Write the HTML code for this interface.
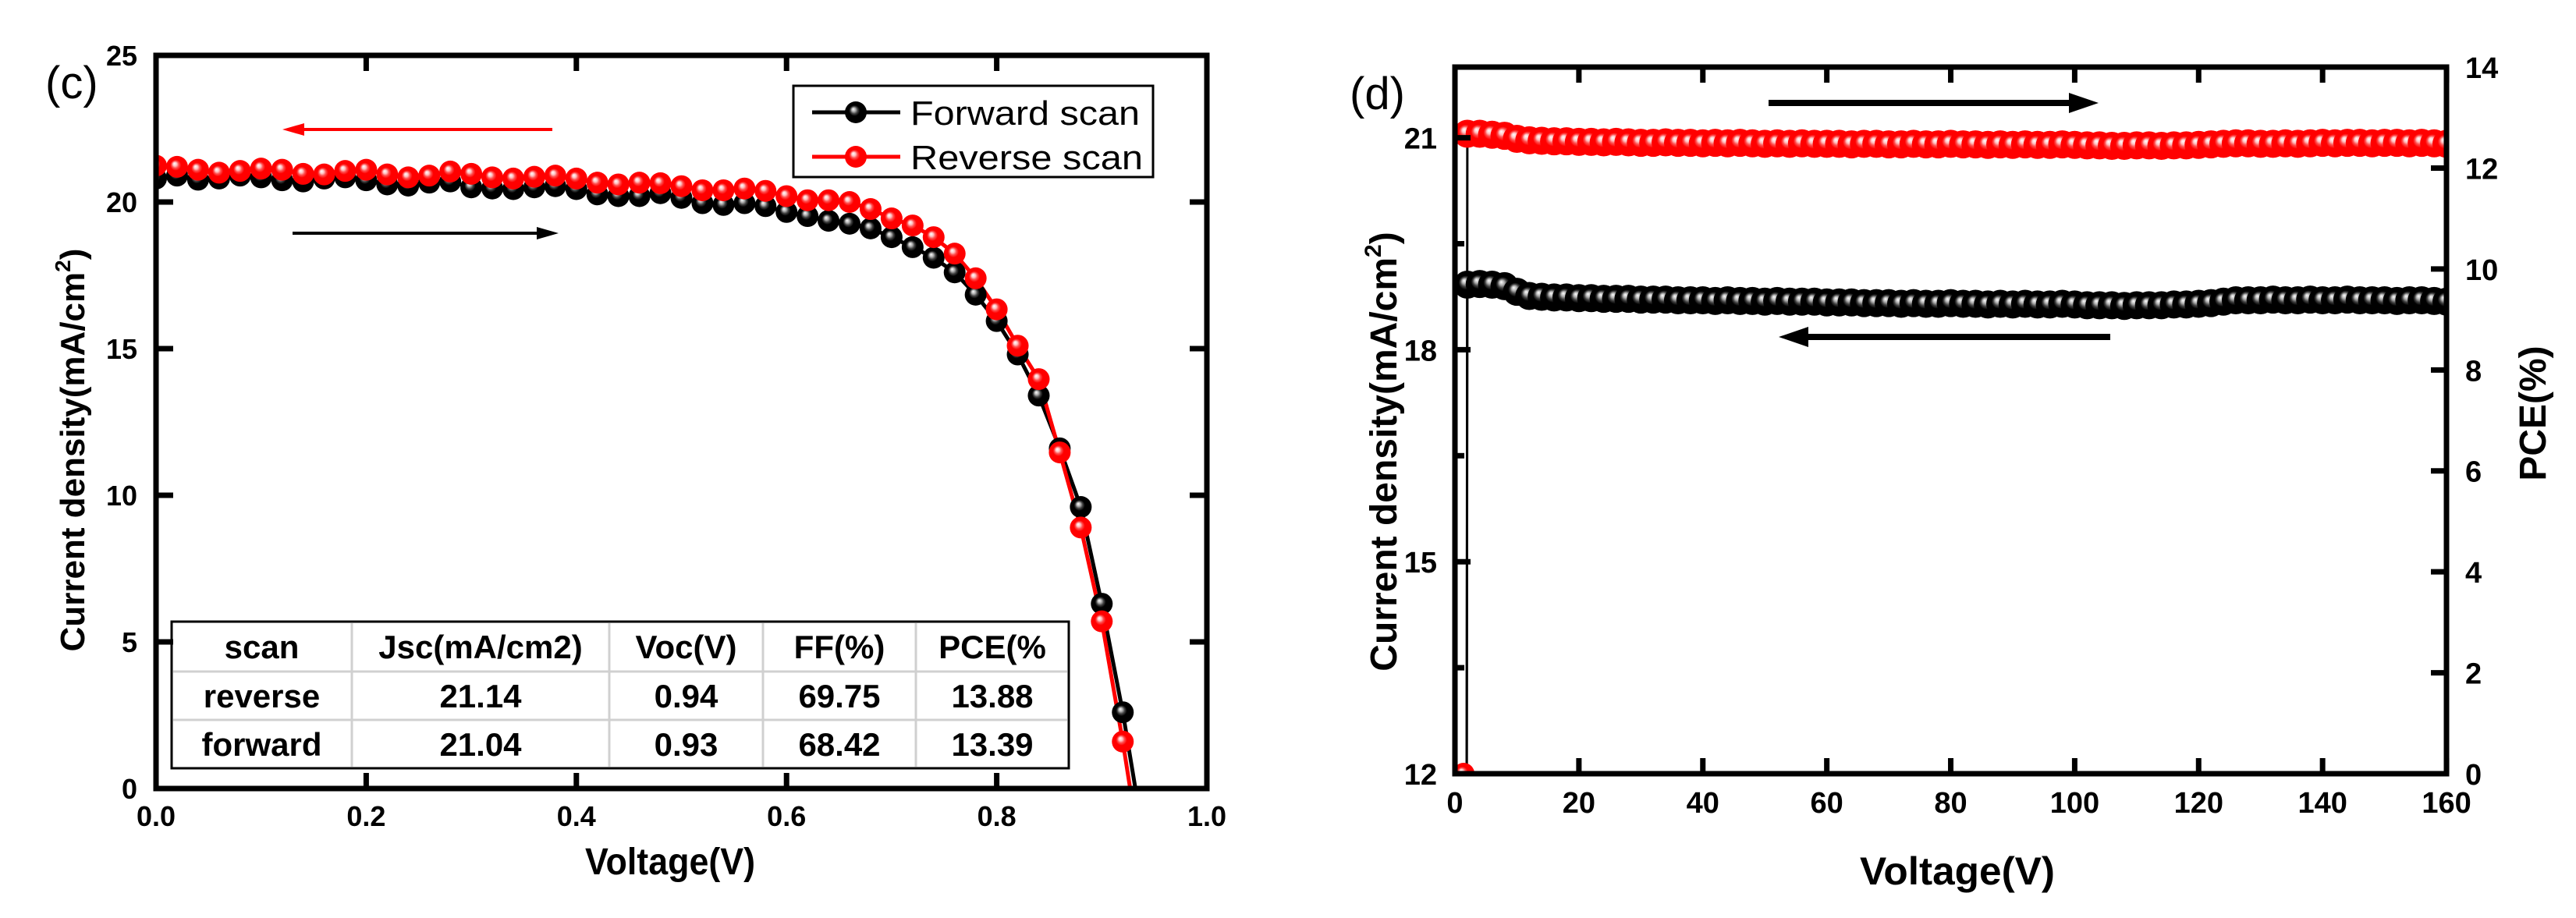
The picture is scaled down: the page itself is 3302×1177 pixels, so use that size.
<!DOCTYPE html>
<html><head><meta charset="utf-8"><style>
html,body{margin:0;padding:0;background:#fff;}
svg{display:block;font-family:"Liberation Sans",Arial,sans-serif;}
</style></head><body>
<svg id="fig" width="3302" height="1177" viewBox="0 0 3302 1177" xmlns="http://www.w3.org/2000/svg">
<defs>
<radialGradient id="gRed" cx="0.5" cy="0.5" r="0.5" fx="0.38" fy="0.35">
<stop offset="0" stop-color="#fff"/><stop offset="0.18" stop-color="#ffc0c0"/><stop offset="0.32" stop-color="#ff5050"/><stop offset="0.5" stop-color="#ff0000"/><stop offset="1" stop-color="#ff0000"/>
</radialGradient>
<radialGradient id="gBlk" cx="0.5" cy="0.5" r="0.5" fx="0.38" fy="0.35">
<stop offset="0" stop-color="#fff"/><stop offset="0.18" stop-color="#b0b0b0"/><stop offset="0.34" stop-color="#404040"/><stop offset="0.5" stop-color="#000"/><stop offset="1" stop-color="#000"/>
</radialGradient>
</defs>
<g id="left"></g>
<g id="right"></g>
</svg>
<script>
// ---- Panel (c) data ----
const jvVoltage = [0,0.02,0.04,0.06,0.08,0.10,0.12,0.14,0.16,0.18,0.20,0.22,0.24,0.26,0.28,0.30,0.32,0.34,0.36,0.38,0.40,0.42,0.44,0.46,0.48,0.50,0.52,0.54,0.56,0.58,0.60,0.62,0.64,0.66,0.68,0.70,0.72,0.74,0.76,0.78,0.80,0.82,0.84,0.86,0.88,0.90,0.92];
const reverseJ = [21.24,21.2,21.1,21.0,21.06,21.14,21.1,20.96,20.94,21.06,21.1,20.94,20.84,20.9,21.04,20.96,20.84,20.8,20.86,20.9,20.8,20.66,20.6,20.66,20.64,20.54,20.4,20.4,20.46,20.38,20.2,20.06,20.06,20.0,19.76,19.44,19.2,18.8,18.24,17.4,16.34,15.1,13.96,11.46,8.9,5.7,1.6];
const forwardJ = [20.8,20.9,20.76,20.8,20.9,20.84,20.74,20.7,20.8,20.84,20.74,20.6,20.56,20.66,20.7,20.5,20.46,20.44,20.5,20.54,20.44,20.26,20.2,20.2,20.3,20.14,19.96,19.9,19.96,19.86,19.66,19.52,19.36,19.26,19.1,18.8,18.46,18.1,17.6,16.84,15.94,14.8,13.4,11.6,9.6,6.3,2.6];
const reverseVoc = 0.927, forwardVoc = 0.932;
const jvXTicks = [0,0.2,0.4,0.6,0.8,1.0];
const jvXTickLabels = ["0.0","0.2","0.4","0.6","0.8","1.0"];
const jvYTicks = [0,5,10,15,20,25];
const tableHeader = ["scan","Jsc(mA/cm2)","Voc(V)","FF(%)","PCE(%"];
const tableReverse = ["reverse","21.14","0.94","69.75","13.88"];
const tableForward = ["forward","21.04","0.93","68.42","13.39"];

// ---- Panel (d) data ----
const stabVoltage = [];
for (let v = 2; v <= 160; v += 2) stabVoltage.push(v);
const pceValues = [12.68,12.68,12.66,12.64,12.58,
12.55,12.54,12.53,12.53,12.52,12.52,12.51,12.52,12.51,12.50,
12.50,12.51,12.50,12.50,12.49,12.50,12.49,12.50,12.49,12.48,12.49,12.48,12.49,12.48,12.48,
12.48,12.47,12.48,12.48,12.47,12.47,12.48,12.47,12.47,12.48,12.47,12.47,12.46,12.47,12.46,12.47,12.46,12.46,12.47,12.46,
12.45,12.45,12.44,12.44,12.45,12.45,12.44,12.45,12.45,12.46,
12.47,12.48,12.49,12.49,12.48,12.48,12.49,12.48,12.49,12.50,12.49,12.50,12.50,12.49,12.50,12.50,12.49,12.50,12.49,12.48];
const densityValues = [18.92,18.93,18.92,18.90,18.82,
18.76,18.75,18.74,18.74,18.73,18.73,18.72,18.72,18.72,18.71,
18.71,18.71,18.70,18.70,18.70,18.69,18.70,18.69,18.69,18.68,18.69,18.68,18.68,18.68,18.67,
18.67,18.67,18.66,18.66,18.66,18.65,18.66,18.65,18.65,18.66,18.65,18.65,18.64,18.65,18.64,18.65,18.64,18.64,18.65,18.64,
18.63,18.63,18.63,18.62,18.63,18.63,18.63,18.64,18.64,18.65,
18.66,18.68,18.70,18.70,18.70,18.71,18.70,18.70,18.71,18.70,18.70,18.71,18.70,18.70,18.70,18.69,18.70,18.70,18.69,18.68];
const stabXTicks = [0,20,40,60,80,100,120,140,160];
const stabLeftTicks = [12,15,18,21];
const stabLeftMinor = [13.5,16.5,19.5];
const stabRightTicks = [0,2,4,6,8,10,12,14];

const NS = "http://www.w3.org/2000/svg";
function mk(parent, tag, attrs, text) {
  const e = document.createElementNS(NS, tag);
  for (const k in attrs) e.setAttribute(k, attrs[k]);
  if (text !== undefined) e.textContent = text;
  parent.appendChild(e);
  return e;
}

// ================= Panel (c) =================
const L = document.getElementById('left');
const lx = v => 200 + v * 1347;
const ly = j => 1011 - j * 37.6;

function polyPts(xs, ys, endX, fx, fy) {
  const pts = xs.map((v, i) => fx(v) + "," + fy(ys[i]));
  pts.push(fx(endX) + "," + fy(0));
  return pts.join(" ");
}
const fLine = mk(L, 'polyline', {points: polyPts(jvVoltage, forwardJ, forwardVoc, lx, ly), fill: 'none', stroke: '#000', 'stroke-width': 5});


const rLine = mk(L, 'polyline', {points: polyPts(jvVoltage, reverseJ, reverseVoc, lx, ly), fill: 'none', stroke: '#f00', 'stroke-width': 5});



const clipL = mk(L, 'clipPath', {id: 'clipL'});
mk(clipL, 'rect', {x: 200, y: 71, width: 1347, height: 940});
const markG = mk(L, 'g', {'clip-path': 'url(#clipL)'});
jvVoltage.forEach((v, i) => {
  const c = mk(markG, 'circle', {cx: lx(v), cy: ly(forwardJ[i]), r: 14, fill: 'url(#gBlk)'});
  
  
});
jvVoltage.forEach((v, i) => {
  const c = mk(markG, 'circle', {cx: lx(v), cy: ly(reverseJ[i]), r: 14, fill: 'url(#gRed)'});
  
  
});

// table
const tbl = mk(L, 'g', {});


mk(tbl, 'rect', {x: 220, y: 797, width: 1150, height: 188, fill: '#fff'});
const colX = [220, 451, 781, 978, 1174, 1370];
const rowY = [797, 861, 923, 985];
[861, 923].forEach(y => mk(tbl, 'line', {x1: 222, x2: 1368, y1: y, y2: y, stroke: '#d0d0d0', 'stroke-width': 3}));
[451, 781, 978, 1174].forEach(x => mk(tbl, 'line', {x1: x, x2: x, y1: 799, y2: 983, stroke: '#d0d0d0', 'stroke-width': 3}));
mk(tbl, 'rect', {x: 220, y: 797, width: 1150, height: 188, fill: 'none', stroke: '#000', 'stroke-width': 3});
[tableHeader, tableReverse, tableForward].forEach((row, r) => {
  row.forEach((t, c) => {
    const tx = mk(tbl, 'text', {x: (colX[c] + colX[c + 1]) / 2, y: (rowY[r] + rowY[r + 1]) / 2 + 15, 'text-anchor': 'middle', 'font-size': 42, 'font-weight': 'bold'}, t);
    
    
  });
});

mk(L, 'rect', {x: 200, y: 71, width: 1347, height: 940, fill: 'none', stroke: '#000', 'stroke-width': 7});
jvXTicks.forEach((v, i) => {
  mk(L, 'line', {x1: lx(v), x2: lx(v), y1: 1011, y2: 991, stroke: '#000', 'stroke-width': 7});
  mk(L, 'line', {x1: lx(v), x2: lx(v), y1: 71, y2: 91, stroke: '#000', 'stroke-width': 7});
  const t = mk(L, 'text', {x: lx(v), y: 1059, 'text-anchor': 'middle', 'font-size': 36, 'font-weight': 'bold'}, jvXTickLabels[i]);
  
  
});
jvYTicks.forEach(j => {
  mk(L, 'line', {x1: 200, x2: 222, y1: ly(j), y2: ly(j), stroke: '#000', 'stroke-width': 7});
  mk(L, 'line', {x1: 1547, x2: 1525, y1: ly(j), y2: ly(j), stroke: '#000', 'stroke-width': 7});
  const t = mk(L, 'text', {x: 176, y: ly(j) + 13, 'text-anchor': 'end', 'font-size': 36, 'font-weight': 'bold'}, String(j));
  
  
});

const leg = mk(L, 'g', {});


mk(leg, 'rect', {x: 1017, y: 110, width: 461, height: 117, fill: '#fff', stroke: '#000', 'stroke-width': 3});
mk(leg, 'line', {x1: 1041, x2: 1154, y1: 144, y2: 144, stroke: '#000', 'stroke-width': 5});
mk(leg, 'circle', {cx: 1097, cy: 144, r: 14, fill: 'url(#gBlk)'});
mk(leg, 'text', {x: 1167, y: 160, 'font-size': 44, textLength: 294, lengthAdjust: 'spacingAndGlyphs'}, 'Forward scan');
mk(leg, 'line', {x1: 1041, x2: 1154, y1: 201, y2: 201, stroke: '#f00', 'stroke-width': 5});
mk(leg, 'circle', {cx: 1097, cy: 201, r: 14, fill: 'url(#gRed)'});
mk(leg, 'text', {x: 1167, y: 217, 'font-size': 44, textLength: 298, lengthAdjust: 'spacingAndGlyphs'}, 'Reverse scan');

mk(L, 'line', {x1: 708, x2: 390, y1: 166, y2: 166, stroke: '#f00', 'stroke-width': 4});
mk(L, 'polygon', {points: '362,166 390,158 390,174', fill: '#f00'});
mk(L, 'line', {x1: 375, x2: 690, y1: 299, y2: 299, stroke: '#000', 'stroke-width': 4});
mk(L, 'polygon', {points: '716,299 688,291 688,307', fill: '#000'});

mk(L, 'text', {x: 58, y: 126, 'font-size': 58}, '(c)');
const xl = mk(L, 'text', {x: 859, y: 1121, 'text-anchor': 'middle', 'font-size': 48, 'font-weight': 'bold', textLength: 218, lengthAdjust: 'spacingAndGlyphs'}, 'Voltage(V)');


const yl = mk(L, 'text', {x: 0, y: 0, 'text-anchor': 'middle', 'font-size': 44, 'font-weight': 'bold', transform: 'translate(108,577) rotate(-90)'});


mk(yl, 'tspan', {}, 'Current density(mA/cm');
mk(yl, 'tspan', {'font-size': 28, dy: -18}, '2');
mk(yl, 'tspan', {dy: 18}, ')');

// ================= Panel (d) =================
const R = document.getElementById('right');
const rx = v => 1865 + v * 7.944;
const yJ = j => 992 - (j - 12) * 90.6;
const yP = p => 992 - p * 64.71;

mk(R, 'polyline', {points: [rx(1.9) + ',' + yP(0)].concat(stabVoltage.map((v, i) => rx(v) + ',' + yP(pceValues[i]))).join(' '), fill: 'none', stroke: '#000', 'stroke-width': 3});
mk(R, 'polyline', {points: [rx(1.9) + ',' + yJ(12)].concat(stabVoltage.map((v, i) => rx(v) + ',' + yJ(densityValues[i]))).join(' '), fill: 'none', stroke: '#000', 'stroke-width': 3});

const clipR = mk(R, 'clipPath', {id: 'clipR'});
mk(clipR, 'rect', {x: 1865, y: 86, width: 1271, height: 906});
const mR = mk(R, 'g', {'clip-path': 'url(#clipR)'});
stabVoltage.forEach((v, i) => {
  const c = mk(mR, 'circle', {cx: rx(v), cy: yJ(densityValues[i]), r: 18, fill: 'url(#gBlk)'});
  
  
});
stabVoltage.forEach((v, i) => {
  const c = mk(mR, 'circle', {cx: rx(v), cy: yP(pceValues[i]), r: 18, fill: 'url(#gRed)'});
  
  
});
const z = mk(mR, 'circle', {cx: rx(1.4), cy: yP(0), r: 14, fill: 'url(#gRed)'});



mk(R, 'rect', {x: 1865, y: 86, width: 1271, height: 906, fill: 'none', stroke: '#000', 'stroke-width': 7});
stabXTicks.forEach(v => {
  mk(R, 'line', {x1: rx(v), x2: rx(v), y1: 992, y2: 972, stroke: '#000', 'stroke-width': 7});
  mk(R, 'line', {x1: rx(v), x2: rx(v), y1: 86, y2: 106, stroke: '#000', 'stroke-width': 7});
  const t = mk(R, 'text', {x: rx(v), y: 1042, 'text-anchor': 'middle', 'font-size': 38, 'font-weight': 'bold'}, String(v));
  
  
});
stabLeftTicks.forEach(j => {
  mk(R, 'line', {x1: 1865, x2: 1885, y1: yJ(j), y2: yJ(j), stroke: '#000', 'stroke-width': 7});
  const t = mk(R, 'text', {x: 1842, y: yJ(j) + 14, 'text-anchor': 'end', 'font-size': 38, 'font-weight': 'bold'}, String(j));
  
  
});
stabLeftMinor.forEach(j => mk(R, 'line', {x1: 1865, x2: 1877, y1: yJ(j), y2: yJ(j), stroke: '#000', 'stroke-width': 7}));
stabRightTicks.forEach(p => {
  mk(R, 'line', {x1: 3136, x2: 3116, y1: yP(p), y2: yP(p), stroke: '#000', 'stroke-width': 7});
  const t = mk(R, 'text', {x: 3160, y: yP(p) + 14, 'text-anchor': 'start', 'font-size': 38, 'font-weight': 'bold'}, String(p));
  
  
});

mk(R, 'line', {x1: 2267, x2: 2660, y1: 132, y2: 132, stroke: '#000', 'stroke-width': 8});
mk(R, 'polygon', {points: '2690,132 2652,119 2652,145', fill: '#000'});
mk(R, 'line', {x1: 2705, x2: 2315, y1: 432, y2: 432, stroke: '#000', 'stroke-width': 8});
mk(R, 'polygon', {points: '2280,432 2318,419 2318,445', fill: '#000'});

mk(R, 'text', {x: 1730, y: 140, 'font-size': 58}, '(d)');
const xl2 = mk(R, 'text', {x: 2509, y: 1134, 'text-anchor': 'middle', 'font-size': 50, 'font-weight': 'bold', textLength: 250, lengthAdjust: 'spacingAndGlyphs'}, 'Voltage(V)');


const yl2 = mk(R, 'text', {x: 0, y: 0, 'text-anchor': 'middle', 'font-size': 48, 'font-weight': 'bold', transform: 'translate(1790,579) rotate(-90)'});


mk(yl2, 'tspan', {}, 'Current density(mA/cm');
mk(yl2, 'tspan', {'font-size': 30, dy: -20}, '2');
mk(yl2, 'tspan', {dy: 20}, ')');
const yr2 = mk(R, 'text', {x: 0, y: 0, 'text-anchor': 'middle', 'font-size': 48, 'font-weight': 'bold', transform: 'translate(3263,530) rotate(-90)'}, 'PCE(%)');


</script>
</body></html>
